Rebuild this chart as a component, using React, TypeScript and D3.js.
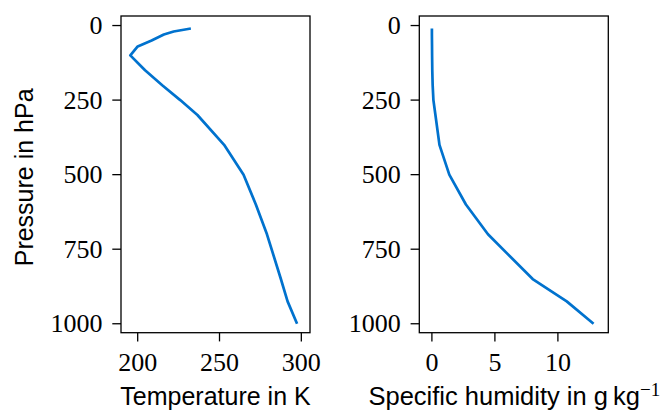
import React from "react";
import * as d3 from "d3";

const pressure = [10, 20, 30, 50, 70, 100, 150, 200, 250, 300, 400, 500, 600, 700, 850, 925, 1000];
const temperature = [232.5, 222, 216, 208.5, 200, 195.5, 204.5, 215, 226, 236.5, 252.8, 264.7, 272.2, 279, 287.5, 291.6, 297.4];
const humidity = [0.0, 0.0, 0.0, 0.005, 0.01, 0.015, 0.03, 0.06, 0.12, 0.28, 0.6, 1.38, 2.7, 4.45, 8.0, 10.7, 12.83];

const pressureTicks = [0, 250, 500, 750, 1000];
const tempTicks = [200, 250, 300];
const humTicks = [0, 5, 10];

const W = 664;
const H = 412;
const top = 16;
const bottom = 332.7;
const blue = "#0072ce";
const serif = "'Liberation Serif', 'Times New Roman', serif";
const sans = "'Liberation Sans', Arial, sans-serif";

type PanelProps = {
  x0: number;
  x1: number;
  xDomain: [number, number];
  xValues: number[];
  xTicks: number[];
};

function Panel({ x0, x1, xDomain, xValues, xTicks }: PanelProps) {
  const x = d3.scaleLinear().domain(xDomain).range([x0, x1]);
  const y = d3.scaleLinear().domain([-32, 1030]).range([top, bottom]);
  const pts: [number, number][] = pressure.map((p, i) => [xValues[i], p]);
  const line = d3
    .line<[number, number]>()
    .x((d) => x(d[0]))
    .y((d) => y(d[1]));
  const tickLen = 8.7;
  return (
    <g>
      <path d={line(pts) || ""} fill="none" stroke={blue} strokeWidth={2.7} strokeLinejoin="round" strokeLinecap="butt" />
      <rect x={x0} y={top} width={x1 - x0} height={bottom - top} fill="none" stroke="#000" strokeWidth={1.3} />
      {pressureTicks.map((t) => (
        <g key={"y" + t}>
          <line x1={x0 - tickLen} x2={x0} y1={y(t)} y2={y(t)} stroke="#000" strokeWidth={1.3} />
          <text x={x0 - 18.5} y={y(t)} dy="0.33em" textAnchor="end" fontFamily={serif} fontSize={26} fill="#000">
            {t}
          </text>
        </g>
      ))}
      {xTicks.map((t) => (
        <g key={"x" + t}>
          <line x1={x(t)} x2={x(t)} y1={bottom} y2={bottom + tickLen} stroke="#000" strokeWidth={1.3} />
          <text x={x(t)} y={370.7} textAnchor="middle" fontFamily={serif} fontSize={26} fill="#000">
            {t}
          </text>
        </g>
      ))}
    </g>
  );
}

export default function App() {
  const lx0 = 121;
  const lx1 = 310;
  const rx0 = 419.3;
  const rx1 = 608.3;
  return (
    <svg width={W} height={H} style={{ position: "absolute", left: 0, top: 0, background: "#fff" }}>
      <rect x={0} y={0} width={W} height={H} fill="#fff" />
      <Panel x0={lx0} x1={lx1} xDomain={[189.8, 305.3]} xValues={temperature} xTicks={tempTicks} />
      <Panel x0={rx0} x1={rx1} xDomain={[-1.0, 14.0]} xValues={humidity} xTicks={humTicks} />
      <text x={(lx0 + lx1) / 2} y={405} textAnchor="middle" fontFamily={sans} fontSize={25} fill="#000">
        Temperature in K
      </text>
      <text x={(rx0 + rx1) / 2 + 0.5} y={405} textAnchor="middle" fontFamily={sans} fontSize={25.5} fill="#000">
        <tspan>Specific humidity in g</tspan>
        <tspan dx={5}>kg</tspan>
        <tspan fontFamily={serif} fontSize={19} dy={-9.5}>−1</tspan>
      </text>
      <text
        transform={`translate(33.3, ${(top + bottom) / 2 + 3}) rotate(-90)`}
        textAnchor="middle"
        fontFamily={sans}
        fontSize={25}
        fill="#000"
      >
        Pressure in hPa
      </text>
    </svg>
  );
}
